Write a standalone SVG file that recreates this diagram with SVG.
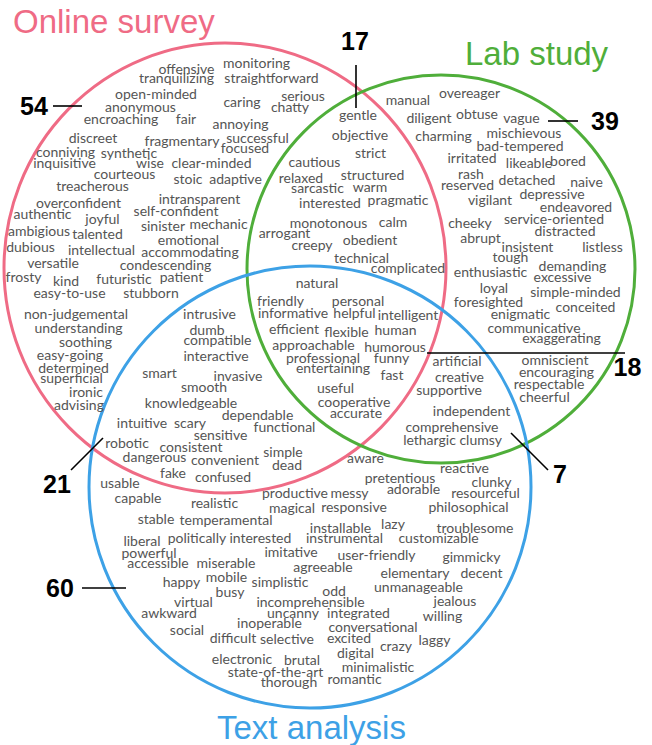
<svg xmlns="http://www.w3.org/2000/svg" width="652" height="745" viewBox="0 0 652 745">
<style>
.w{font-family:Lato,"Open Sans","DejaVu Sans",sans-serif;font-size:14px;fill:#555;text-anchor:middle}
.t{font-family:"Liberation Sans",Arial,sans-serif;font-size:33px}
.n{font-family:"Liberation Sans",Arial,sans-serif;font-size:25px;font-weight:bold;fill:#000;text-anchor:middle}
.c{fill:none;stroke-width:3}
.l{stroke:#000;stroke-width:1.6;fill:none}
</style>
<rect width="652" height="745" fill="#fff"/>
<g id="online-survey">
<ellipse class="c" cx="225" cy="268" rx="221" ry="225" stroke="#EF6B85"/>
<text class="t" x="13" y="33" fill="#EF6B85">Online survey</text>
</g>
<g id="lab-study">
<circle class="c" cx="441" cy="269" r="194" stroke="#4FAE3A"/>
<text class="t" x="465" y="65" fill="#4FAE3A">Lab study</text>
</g>
<g id="text-analysis">
<circle class="c" cx="310" cy="487" r="221" stroke="#3DA1E6"/>
<text class="t" x="217" y="739" fill="#3DA1E6">Text analysis</text>
</g>
<g id="words-online">
<text class="w" x="186.5" y="74">offensive</text>
<text class="w" x="256.5" y="68">monitoring</text>
<text class="w" x="176.5" y="83">tranquilizing</text>
<text class="w" x="271.5" y="83">straightforward</text>
<text class="w" x="156" y="99">open-minded</text>
<text class="w" x="242" y="107">caring</text>
<text class="w" x="303" y="101">serious</text>
<text class="w" x="290" y="112">chatty</text>
<text class="w" x="140.5" y="112">anonymous</text>
<text class="w" x="121" y="124">encroaching</text>
<text class="w" x="186" y="124">fair</text>
<text class="w" x="240.5" y="129">annoying</text>
<text class="w" x="257.5" y="143">successful</text>
<text class="w" x="182" y="146">fragmentary</text>
<text class="w" x="93" y="143">discreet</text>
<text class="w" x="245" y="153">focused</text>
<text class="w" x="65.5" y="157">conniving</text>
<text class="w" x="129" y="158">synthetic</text>
<text class="w" x="64.5" y="168">inquisitive</text>
<text class="w" x="150" y="168">wise</text>
<text class="w" x="211.5" y="168">clear-minded</text>
<text class="w" x="124.5" y="179">courteous</text>
<text class="w" x="188" y="184">stoic</text>
<text class="w" x="235.5" y="184">adaptive</text>
<text class="w" x="92.5" y="191">treacherous</text>
<text class="w" x="199.5" y="204">intransparent</text>
<text class="w" x="78.5" y="208">overconfident</text>
<text class="w" x="42.5" y="219">authentic</text>
<text class="w" x="176" y="216">self-confident</text>
<text class="w" x="102.5" y="224">joyful</text>
<text class="w" x="163" y="231">sinister</text>
<text class="w" x="218.5" y="229">mechanic</text>
<text class="w" x="39" y="236">ambigious</text>
<text class="w" x="97.5" y="239">talented</text>
<text class="w" x="188.5" y="245">emotional</text>
<text class="w" x="30.5" y="252">dubious</text>
<text class="w" x="101.5" y="255">intellectual</text>
<text class="w" x="190" y="257">accommodating</text>
<text class="w" x="53" y="268">versatile</text>
<text class="w" x="165.5" y="270">condescending</text>
<text class="w" x="23.5" y="282">frosty</text>
<text class="w" x="66" y="286">kind</text>
<text class="w" x="124" y="284">futuristic</text>
<text class="w" x="181.5" y="282">patient</text>
<text class="w" x="69.5" y="298">easy-to-use</text>
<text class="w" x="151" y="298">stubborn</text>
<text class="w" x="76" y="319">non-judgemental</text>
<text class="w" x="78.5" y="333">understanding</text>
<text class="w" x="85.5" y="347">soothing</text>
<text class="w" x="70" y="360">easy-going</text>
<text class="w" x="73.5" y="373">determined</text>
<text class="w" x="71.5" y="383">superficial</text>
<text class="w" x="86" y="397">ironic</text>
<text class="w" x="79" y="410">advising</text>
</g>
<g id="words-lab">
<text class="w" x="408" y="105">manual</text>
<text class="w" x="469.5" y="98">overeager</text>
<text class="w" x="429" y="123">diligent</text>
<text class="w" x="477" y="119">obtuse</text>
<text class="w" x="521.5" y="123">vague</text>
<text class="w" x="443.5" y="141">charming</text>
<text class="w" x="524" y="138">mischievous</text>
<text class="w" x="520" y="151">bad-tempered</text>
<text class="w" x="472" y="163">irritated</text>
<text class="w" x="529" y="168">likeable</text>
<text class="w" x="568" y="166">bored</text>
<text class="w" x="471" y="179">rash</text>
<text class="w" x="467.5" y="190">reserved</text>
<text class="w" x="527" y="185">detached</text>
<text class="w" x="586.5" y="187">naive</text>
<text class="w" x="552" y="199">depressive</text>
<text class="w" x="490" y="205">vigilant</text>
<text class="w" x="576" y="212">endeavored</text>
<text class="w" x="470" y="228">cheeky</text>
<text class="w" x="554" y="224">service-oriented</text>
<text class="w" x="480.5" y="243">abrupt</text>
<text class="w" x="565" y="236">distracted</text>
<text class="w" x="527.5" y="252">insistent</text>
<text class="w" x="602.5" y="252">listless</text>
<text class="w" x="510.5" y="262">tough</text>
<text class="w" x="490.5" y="277">enthusiastic</text>
<text class="w" x="572.5" y="271">demanding</text>
<text class="w" x="562.5" y="282">excessive</text>
<text class="w" x="494" y="293">loyal</text>
<text class="w" x="575.5" y="297">simple-minded</text>
<text class="w" x="488.5" y="307">foresighted</text>
<text class="w" x="585.5" y="312">conceited</text>
<text class="w" x="520.5" y="319">enigmatic</text>
<text class="w" x="534" y="333">communicative</text>
<text class="w" x="561.5" y="343">exaggerating</text>
</g>
<g id="words-lab-text">
<text class="w" x="555" y="365">omniscient</text>
<text class="w" x="556.5" y="377">encouraging</text>
<text class="w" x="549" y="389">respectable</text>
<text class="w" x="544.5" y="402">cheerful</text>
<text class="w" x="457" y="366">artificial</text>
<text class="w" x="459.5" y="382">creative</text>
<text class="w" x="449" y="395">supportive</text>
<text class="w" x="471.5" y="416">independent</text>
<text class="w" x="452" y="432">comprehensive</text>
<text class="w" x="452.5" y="445">lethargic clumsy</text>
<text class="w" x="365.5" y="463">aware</text>
</g>
<g id="words-online-lab">
<text class="w" x="358" y="120">gentle</text>
<text class="w" x="360" y="140">objective</text>
<text class="w" x="370.5" y="158">strict</text>
<text class="w" x="314.5" y="167">cautious</text>
<text class="w" x="301" y="183">relaxed</text>
<text class="w" x="372.5" y="180">structured</text>
<text class="w" x="317.5" y="193">sarcastic</text>
<text class="w" x="370" y="192">warm</text>
<text class="w" x="330" y="208">interested</text>
<text class="w" x="398" y="205">pragmatic</text>
<text class="w" x="328.5" y="228">monotonous</text>
<text class="w" x="393" y="227">calm</text>
<text class="w" x="284.5" y="238">arrogant</text>
<text class="w" x="370" y="245">obedient</text>
<text class="w" x="312" y="250">creepy</text>
<text class="w" x="361.5" y="263">technical</text>
<text class="w" x="408" y="273">complicated</text>
</g>
<g id="words-all">
<text class="w" x="317" y="288">natural</text>
<text class="w" x="280.5" y="306">friendly</text>
<text class="w" x="358" y="306">personal</text>
<text class="w" x="293" y="318">informative</text>
<text class="w" x="354.5" y="318">helpful</text>
<text class="w" x="408" y="320">intelligent</text>
<text class="w" x="294" y="334">efficient</text>
<text class="w" x="346.5" y="337">flexible</text>
<text class="w" x="395.5" y="335">human</text>
<text class="w" x="313.5" y="350">approachable</text>
<text class="w" x="395" y="352">humorous</text>
<text class="w" x="323" y="363">professional</text>
<text class="w" x="391.5" y="363">funny</text>
<text class="w" x="333" y="373">entertaining</text>
<text class="w" x="392" y="380">fast</text>
<text class="w" x="335.5" y="393">useful</text>
<text class="w" x="354" y="407">cooperative</text>
<text class="w" x="356" y="418">accurate</text>
</g>
<g id="words-online-text">
<text class="w" x="209.5" y="319">intrusive</text>
<text class="w" x="207" y="335">dumb</text>
<text class="w" x="217.5" y="345">compatible</text>
<text class="w" x="216" y="361">interactive</text>
<text class="w" x="159.5" y="378">smart</text>
<text class="w" x="238" y="381">invasive</text>
<text class="w" x="204" y="392">smooth</text>
<text class="w" x="191" y="408">knowledgeable</text>
<text class="w" x="257.5" y="420">dependable</text>
<text class="w" x="142" y="428">intuitive</text>
<text class="w" x="190" y="428">scary</text>
<text class="w" x="284.5" y="432">functional</text>
<text class="w" x="220.5" y="440">sensitive</text>
<text class="w" x="127" y="448">robotic</text>
<text class="w" x="191" y="452">consistent</text>
<text class="w" x="283" y="457">simple</text>
<text class="w" x="154.5" y="462">dangerous</text>
<text class="w" x="225" y="465">convenient</text>
<text class="w" x="287" y="470">dead</text>
<text class="w" x="173" y="478">fake</text>
<text class="w" x="223" y="482">confused</text>
</g>
<g id="words-text">
<text class="w" x="120" y="488">usable</text>
<text class="w" x="138" y="503">capable</text>
<text class="w" x="214.5" y="508">realistic</text>
<text class="w" x="295" y="498">productive</text>
<text class="w" x="349.5" y="498">messy</text>
<text class="w" x="400" y="483">pretentious</text>
<text class="w" x="413.5" y="494">adorable</text>
<text class="w" x="464.5" y="473">reactive</text>
<text class="w" x="491.5" y="487">clunky</text>
<text class="w" x="485.5" y="498">resourceful</text>
<text class="w" x="292" y="513">magical</text>
<text class="w" x="354" y="512">responsive</text>
<text class="w" x="468.5" y="512">philosophical</text>
<text class="w" x="156" y="524">stable</text>
<text class="w" x="226" y="525">temperamental</text>
<text class="w" x="340.5" y="533">installable</text>
<text class="w" x="393" y="529">lazy</text>
<text class="w" x="475" y="533">troublesome</text>
<text class="w" x="142" y="546">liberal</text>
<text class="w" x="229.5" y="543">politically interested</text>
<text class="w" x="344.5" y="543">instrumental</text>
<text class="w" x="438.5" y="543">customizable</text>
<text class="w" x="149" y="558">powerful</text>
<text class="w" x="291" y="557">imitative</text>
<text class="w" x="376.5" y="560">user-friendly</text>
<text class="w" x="471.5" y="562">gimmicky</text>
<text class="w" x="158" y="568">accessible</text>
<text class="w" x="226" y="568">miserable</text>
<text class="w" x="323" y="572">agreeable</text>
<text class="w" x="415" y="578">elementary</text>
<text class="w" x="481.5" y="578">decent</text>
<text class="w" x="181.5" y="587">happy</text>
<text class="w" x="226.5" y="582">mobile</text>
<text class="w" x="280" y="587">simplistic</text>
<text class="w" x="334" y="596">odd</text>
<text class="w" x="418.5" y="592">unmanageable</text>
<text class="w" x="230" y="597">busy</text>
<text class="w" x="310.5" y="607">incomprehensible</text>
<text class="w" x="455" y="606">jealous</text>
<text class="w" x="193.5" y="607">virtual</text>
<text class="w" x="169" y="618">awkward</text>
<text class="w" x="293" y="618">uncanny</text>
<text class="w" x="358.5" y="618">integrated</text>
<text class="w" x="442.5" y="621">willing</text>
<text class="w" x="269.5" y="628">inoperable</text>
<text class="w" x="373" y="632">conversational</text>
<text class="w" x="187" y="635">social</text>
<text class="w" x="233" y="643">difficult</text>
<text class="w" x="287" y="644">selective</text>
<text class="w" x="349" y="643">excited</text>
<text class="w" x="396" y="651">crazy</text>
<text class="w" x="434.5" y="645">laggy</text>
<text class="w" x="242" y="664">electronic</text>
<text class="w" x="302" y="665">brutal</text>
<text class="w" x="355.5" y="658">digital</text>
<text class="w" x="275.5" y="677">state-of-the-art</text>
<text class="w" x="378" y="672">minimalistic</text>
<text class="w" x="289" y="687">thorough</text>
<text class="w" x="354.5" y="684">romantic</text>
</g>
<g id="connectors">
<line class="l" x1="53" y1="106" x2="82" y2="106"/>
<line class="l" x1="356" y1="65" x2="356" y2="108"/>
<line class="l" x1="548" y1="121" x2="578" y2="121"/>
<line class="l" x1="427" y1="353" x2="625" y2="353"/>
<line class="l" x1="511" y1="433" x2="548" y2="470"/>
<line class="l" x1="71" y1="470" x2="103" y2="438"/>
<line class="l" x1="82" y1="588" x2="126" y2="588"/>
</g>
<g id="counts">
<text class="n" x="34" y="115">54</text>
<text class="n" x="355" y="50">17</text>
<text class="n" x="605" y="130">39</text>
<text class="n" x="627.5" y="376">18</text>
<text class="n" x="560" y="483">7</text>
<text class="n" x="57" y="493">21</text>
<text class="n" x="60" y="597">60</text>
</g>
</svg>
